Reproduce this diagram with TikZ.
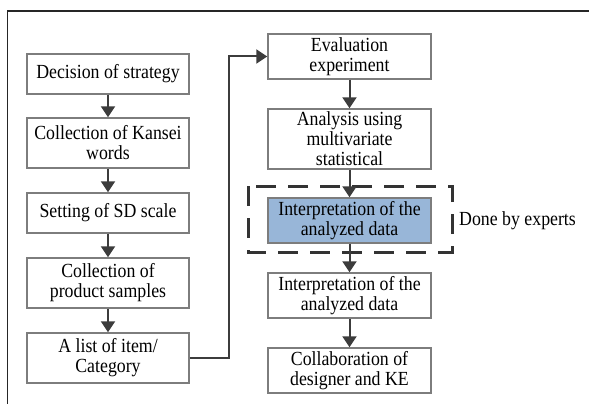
\documentclass[tikz,border=0pt]{standalone}
\usepackage{fontspec}
\setmainfont{Liberation Serif}[FakeStretch=0.89]
\usetikzlibrary{arrows.meta,shadows}
\definecolor{boxline}{RGB}{125,125,125}
\definecolor{arrowgray}{RGB}{60,60,60}
\definecolor{expertblue}{RGB}{152,182,216}
\tikzset{
  stepbox/.style={draw=boxline, line width=1.5pt, fill=white, inner sep=0pt,
    align=center, font=\fontsize{20}{20}\selectfont,
    drop shadow={shadow xshift=1.2pt, shadow yshift=-1.2pt, fill=black!25, opacity=0.6}},
  flow/.style={draw=arrowgray, line width=2pt,
    -{Triangle[width=14pt,length=11pt]}},
  expertframe/.style={draw=black!80, line width=3pt, dash pattern=on 20pt off 12pt},
}
\begin{document}
\begin{tikzpicture}[x=1pt, y=-1pt]
\useasboundingbox (0,0) rectangle (589,404);
% outer frame
\draw[line width=1.5pt, black!85] (7.5,404) -- (7.5,11) -- (589,11);

% left column
\node[stepbox, minimum width=162pt, minimum height=40pt] (b1) at (108,74) {Decision of strategy};
\node[stepbox, minimum width=162pt, minimum height=50pt] (b2) at (108,143) {Collection of Kansei\\words};
\node[stepbox, minimum width=162pt, minimum height=40pt] (b3) at (108,213) {Setting of SD scale};
\node[stepbox, minimum width=162pt, minimum height=50pt] (b4) at (108,283) {Collection of\\product samples};
\node[stepbox, minimum width=162pt, minimum height=50pt] (b5) at (108,358) {A list of item/\\Category};

% dashed frame around the expert step
\draw[expertframe] (248,186) rectangle (452,252);

% right column
\node[stepbox, minimum width=163pt, minimum height=45pt] (r1) at (349.5,56.5) {Evaluation\\experiment};
\node[stepbox, minimum width=163pt, minimum height=60pt] (r2) at (349.5,139) {Analysis using\\multivariate\\statistical};
\node[stepbox, fill=expertblue, minimum width=163pt, minimum height=45pt] (r3) at (349.5,220.5) {Interpretation of the\\analyzed data};
\node[stepbox, minimum width=163pt, minimum height=45pt] (r4) at (349.5,295.5) {Interpretation of the\\analyzed data};
\node[stepbox, minimum width=163pt, minimum height=45pt] (r5) at (349.5,370.5) {Collaboration of\\designer and KE};

\node[font=\fontsize{20}{20}\selectfont, anchor=west, inner sep=0pt] (experts) at (459,221) {Done by experts};

% connectors
\draw[flow] (b1) -- (b2);
\draw[flow] (b2) -- (b3);
\draw[flow] (b3) -- (b4);
\draw[flow] (b4) -- (b5);
\coordinate (turnlow) at (229,358);
\coordinate (turnhigh) at (229,56.5);
\draw[flow] (b5.east) -- (turnlow) -- (turnhigh) -- (r1.west);
\draw[flow] (r1) -- (r2);
\draw[flow] (r2) -- (r3);
\draw[flow] (r3) -- (r4);
\draw[flow] (r4) -- (r5);
\end{tikzpicture}
\end{document}
